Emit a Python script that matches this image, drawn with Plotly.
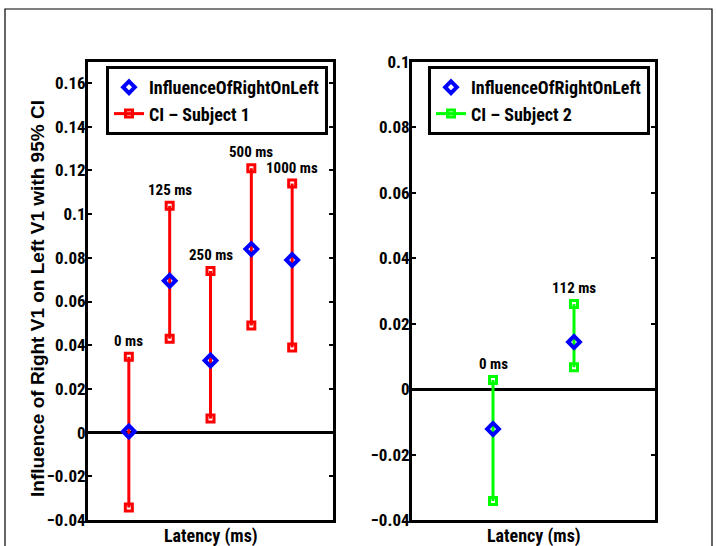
import plotly.graph_objects as go
from plotly.subplots import make_subplots

# ---- data ----
left_x = [1, 2, 3, 4, 5]
left_labels = ["0 ms", "125 ms", "250 ms", "500 ms", "1000 ms"]
left_center = [0.0005, 0.0695, 0.033, 0.084, 0.079]
left_upper = [0.0347, 0.1038, 0.074, 0.121, 0.114]
left_lower = [-0.0343, 0.043, 0.0064, 0.049, 0.039]

right_x = [1, 2]
right_labels = ["0 ms", "112 ms"]
right_center = [-0.0122, 0.0144]
right_upper = [0.0028, 0.026]
right_lower = [-0.0342, 0.0067]

left_ticks = [-0.04, -0.02, 0, 0.02, 0.04, 0.06, 0.08, 0.1, 0.12, 0.14, 0.16]
right_ticks = [-0.04, -0.02, 0, 0.02, 0.04, 0.06, 0.08, 0.1]

NARROW = "Liberation Sans Narrow, Arial Narrow, Roboto Condensed, sans-serif"
WIDE = "Liberation Sans, Arial, sans-serif"

W, H = 716, 546
ML, MR, MT, MB = 88, 61, 62, 26
PW = W - ML - MR
PH = H - MT - MB

def px_x(p):
    return (p - ML) / PW

def px_y(p):
    return (H - MB - p) / PH

fig = make_subplots(rows=1, cols=2, horizontal_spacing=0.0)

def ci_xy(xs, lo, hi):
    X, Y = [], []
    for x, a, b in zip(xs, lo, hi):
        X += [x, x, None]
        Y += [a, b, None]
    return X, Y

# left panel
X, Y = ci_xy(left_x, left_lower, left_upper)
fig.add_trace(go.Scatter(x=X, y=Y, mode="lines+markers", name="CI \u2013 Subject 1",
                         line=dict(color="#ff0000", width=3),
                         marker=dict(symbol="square-open", size=7, color="#ff0000",
                                     line=dict(width=3, color="#ff0000")),
                         legend="legend"), row=1, col=1)
fig.add_trace(go.Scatter(x=left_x, y=left_center, mode="markers", name="InfluenceOfRightOnLeft",
                         marker=dict(symbol="diamond-open", size=9, color="#0000ff",
                                     line=dict(width=4, color="#0000ff")),
                         legend="legend"), row=1, col=1)

# right panel
X, Y = ci_xy(right_x, right_lower, right_upper)
fig.add_trace(go.Scatter(x=X, y=Y, mode="lines+markers", name="CI \u2013 Subject 2",
                         line=dict(color="#00ff00", width=3),
                         marker=dict(symbol="square-open", size=7, color="#00ff00",
                                     line=dict(width=3, color="#00ff00")),
                         legend="legend2"), row=1, col=2)
fig.add_trace(go.Scatter(x=right_x, y=right_center, mode="markers", name="InfluenceOfRightOnLeft",
                         marker=dict(symbol="diamond-open", size=9, color="#0000ff",
                                     line=dict(width=4, color="#0000ff")),
                         legend="legend2"), row=1, col=2)

axis_common = dict(showline=True, linewidth=3, linecolor="black", mirror="ticks",
                   showgrid=False)
fig.update_xaxes(**axis_common, ticks="", showticklabels=False, zeroline=False)
fig.update_yaxes(**axis_common, ticks="inside", ticklen=4, tickwidth=2, tickcolor="black",
                 zeroline=True, zerolinecolor="black", zerolinewidth=3,
                 ticklabelstandoff=-4,
                 tickfont=dict(family=NARROW, size=17, color="black", weight="bold"))

fig.update_layout(
    xaxis=dict(domain=[0, px_x(333)], range=[0, 6]),
    xaxis2=dict(domain=[px_x(412), 1], range=[0, 3]),
    yaxis=dict(range=[-0.04, 0.16 + (0.16 - (-0.04)) * (83 - 62) / (520 - 83)],
               tickvals=left_ticks),
    yaxis2=dict(range=[-0.04, 0.1], tickvals=right_ticks),
)

legend_common = dict(bgcolor="white", bordercolor="black", borderwidth=3,
                     font=dict(family=NARROW, size=18, color="black", weight="bold"),
                     traceorder="reversed", xanchor="left", yanchor="top",
                     tracegroupgap=0, itemwidth=30)
fig.update_layout(
    legend=dict(**legend_common, x=px_x(106), y=px_y(66)),
    legend2=dict(**legend_common, x=px_x(428), y=px_y(66)),
)

ann = []
for x, y, t in zip(left_x, left_upper, left_labels):
    ann.append(dict(x=x, y=y, xref="x", yref="y", text=t, showarrow=False,
                    yshift=16, font=dict(family=NARROW, size=15, color="black", weight="bold")))
for x, y, t in zip(right_x, right_upper, right_labels):
    ann.append(dict(x=x, y=y, xref="x2", yref="y2", text=t, showarrow=False,
                    yshift=16, font=dict(family=NARROW, size=15, color="black", weight="bold")))
# axis titles
ann.append(dict(x=px_x((88 + 333) / 2), y=px_y(536), xref="paper", yref="paper",
                text="Latency (ms)", showarrow=False, xanchor="center", yanchor="middle",
                font=dict(family=NARROW, size=18, color="black", weight="bold")))
ann.append(dict(x=px_x((412 + 655) / 2), y=px_y(536), xref="paper", yref="paper",
                text="Latency (ms)", showarrow=False, xanchor="center", yanchor="middle",
                font=dict(family=NARROW, size=18, color="black", weight="bold")))
ann.append(dict(x=px_x(37), y=px_y(299), xref="paper", yref="paper",
                text="Influence of Right V1 on Left V1 with 95% CI", showarrow=False,
                textangle=-90, xanchor="center", yanchor="middle",
                font=dict(family=WIDE, size=19, color="black", weight="bold")))

fig.update_layout(
    annotations=ann,
    shapes=[dict(type="rect", xref="paper", yref="paper",
                 x0=px_x(5), x1=px_x(712), y0=px_y(560), y1=px_y(9),
                 line=dict(color="black", width=1.2), fillcolor="rgba(0,0,0,0)", layer="below")],
    width=W, height=H,
    margin=dict(l=ML, r=MR, t=MT, b=MB),
    paper_bgcolor="white", plot_bgcolor="white",
    showlegend=True,
)

fig.write_html("out.html", config={"displayModeBar": False},
               post_script="document.body.style.margin='0';document.body.style.overflow='hidden';")
